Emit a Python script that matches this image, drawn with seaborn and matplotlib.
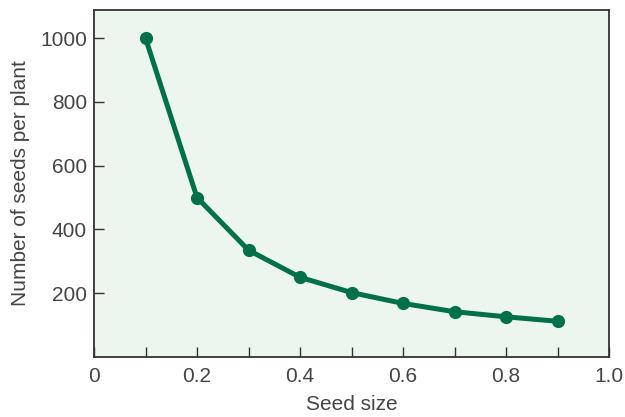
import numpy as np
import pandas as pd
import seaborn as sns
import matplotlib.pyplot as plt
from matplotlib.ticker import MultipleLocator

seed_size = [0.1, 0.2, 0.3, 0.4, 0.5, 0.6, 0.7, 0.8, 0.9]
seeds_per_plant = [1000, 500, 335, 250, 202, 168, 142, 126, 112]

x_ticks = [0, 0.2, 0.4, 0.6, 0.8, 1.0]
x_labels = ['0', '0.2', '0.4', '0.6', '0.8', '1.0']
y_ticks = [200, 400, 600, 800, 1000]

df = pd.DataFrame({'size': seed_size, 'seeds': seeds_per_plant})

sns.set_style('ticks')
plt.rcParams['font.family'] = ['Liberation Sans', 'DejaVu Sans']

green = '#00704a'
text_col = '#454545'

fig = plt.figure(figsize=(6.25, 4.17), dpi=100)
ax = fig.add_axes([0.1504, 0.1439, 0.824, 0.832])
ax.set_facecolor('#edf6ee')

sns.lineplot(x='size', y='seeds', data=df, ax=ax, color=green, linewidth=3.6,
             marker='o', markersize=9.5, markeredgewidth=0, markerfacecolor=green)

ax.set_xlim(0, 1.0)
ax.set_ylim(0, 1088)
ax.set_xticks(x_ticks)
ax.set_xticklabels(x_labels)
ax.xaxis.set_minor_locator(MultipleLocator(0.1))
ax.set_yticks(y_ticks)

ax.tick_params(axis='both', which='both', direction='in', length=7, width=1.0,
               color='#333333', labelsize=15, labelcolor=text_col)
ax.tick_params(axis='x', pad=7)
ax.tick_params(axis='y', pad=5)

for s in ax.spines.values():
    s.set_color('#333333')
    s.set_linewidth(1.3)

ax.set_xlabel('Seed size', fontsize=15, color=text_col, labelpad=7)
ax.set_ylabel('Number of seeds per plant', fontsize=15, color=text_col, labelpad=7)

fig.savefig('out.png', dpi=100)
